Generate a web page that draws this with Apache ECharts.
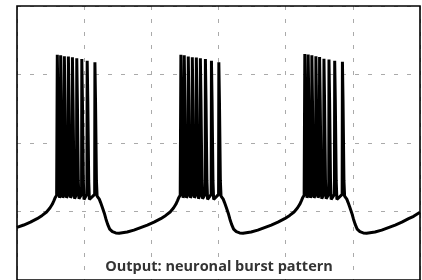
<!DOCTYPE html>
<html>
<head>
<meta charset="utf-8">
<script src="https://cdn.jsdelivr.net/npm/echarts@6/dist/echarts.min.js"></script>
<style>
  html, body { margin: 0; padding: 0; background: #fff; }
  #chart { width: 422px; height: 280px; }
</style>
</head>
<body>
<div id="chart"></div>
<script>
// time in ms, membrane value in mV
const rest0 = [[0, -89.3], [20, -87.9], [40, -86.2], [60, -84.2], [75, -82.3], [88, -80.3], [98, -78.0],
  [105, -75.8], [110, -73.6], [114, -71.8], [118, -70.5]];
const burst1 = [
  [119.2, -70], [120, 11.5], [121.8, -15], [124.5, -62], [126.5, -72],
  [129.2, -70], [130, 11.3], [131.8, -15], [134.5, -62], [136.5, -72],
  [140.2, -70], [141, 10.7], [142.8, -15], [145.5, -62], [147.5, -72],
  [152.2, -70], [153, 10.5], [154.8, -15], [157.5, -62], [159.5, -72],
  [164.2, -70], [165, 10.1], [166.8, -15], [169.5, -62], [171.5, -72.5],
  [177.2, -70], [178, 9.5], [179.8, -15], [182.5, -62], [184.5, -72.5],
  [192.2, -70], [193, 9.0], [194.8, -15], [197.5, -62], [199.5, -73],
  [208.2, -70], [209, 8.0], [210.8, -15], [213.5, -62], [215.5, -73],
  [231.2, -70], [232, 7.2], [233.8, -15], [236.5, -62], [238.5, -71]
];
const rest1 = [[241, -71.5], [245, -72.8], [249, -74.8], [254, -77.5], [260, -81], [265, -84.5], [270, -87.5],
  [276, -90.3], [284, -91.8], [294, -92.5], [304, -92.7], [328, -92.0], [348, -90.9], [368, -89.4],
  [388, -87.9], [408, -86.2], [428, -84.2], [443, -82.3], [456, -80.3], [466, -78.0], [473, -75.8],
  [478, -73.6], [482, -71.8], [486, -70.5]];
const burst2 = [
  [487.2, -70], [488, 11.5], [489.8, -15], [492.5, -62], [494.5, -72],
  [497.2, -70], [498, 11.3], [499.8, -15], [502.5, -62], [504.5, -72],
  [509.2, -70], [510, 10.5], [511.8, -15], [514.5, -62], [516.5, -72],
  [521.2, -70], [522, 10.1], [523.8, -15], [526.5, -62], [528.5, -72],
  [533.2, -70], [534, 9.9], [535.8, -15], [538.5, -62], [540.5, -72.5],
  [545.2, -70], [546, 9.5], [547.8, -15], [550.5, -62], [552.5, -72.5],
  [560.2, -70], [561, 9.0], [562.8, -15], [565.5, -62], [567.5, -73],
  [578.2, -70], [579, 8.0], [580.8, -15], [583.5, -62], [585.5, -73],
  [600.2, -70], [601, 7.1], [602.8, -15], [605.5, -62], [607.5, -71]
];
const rest2 = [[610, -71.5], [614, -72.8], [618, -74.8], [623, -77.5], [629, -81], [634, -84.5], [639, -87.5],
  [645, -90.3], [653, -91.8], [663, -92.5], [673, -92.7], [697, -92.0], [717, -90.9], [737, -89.4],
  [757, -87.9], [777, -86.2], [797, -84.2], [812, -82.3], [825, -80.3], [835, -78.0], [842, -75.8],
  [847, -73.6], [851, -71.8], [855, -70.5]];
const burst3 = [
  [856.2, -70], [857, 11.9], [858.8, -15], [861.5, -62], [863.5, -72],
  [866.2, -70], [867, 11.7], [868.8, -15], [871.5, -62], [873.5, -72],
  [877.2, -70], [878, 11.3], [879.8, -15], [882.5, -62], [884.5, -72],
  [889.2, -70], [890, 10.7], [891.8, -15], [894.5, -62], [896.5, -72],
  [900.2, -70], [901, 10.2], [902.8, -15], [905.5, -62], [907.5, -72.5],
  [913.2, -70], [914, 9.2], [915.8, -15], [918.5, -62], [920.5, -72.5],
  [928.2, -70], [929, 8.8], [930.8, -15], [933.5, -62], [935.5, -73],
  [945.2, -70], [946, 8.0], [947.8, -15], [950.5, -62], [952.5, -73],
  [968.2, -70], [969, 7.4], [970.8, -15], [973.5, -62], [975.5, -71]
];
const rest3 = [[978, -71.5], [982, -72.8], [986, -74.8], [991, -77.5], [997, -81], [1002, -84.5], [1007, -87.5],
  [1013, -90.3], [1021, -91.8], [1031, -92.5], [1041, -92.7], [1066, -92.0], [1086, -90.9], [1106, -89.4],
  [1126, -87.9], [1146, -86.2], [1166, -84.2], [1181, -82.8], [1200, -80.4]];

const titleText = 'Output: neuronal burst pattern';

const trace = [].concat(rest0, burst1, rest1, burst2, rest2, burst3, rest3);

const chart = echarts.init(document.getElementById('chart'), null, { renderer: 'canvas' });
const dashed = { show: true, lineStyle: { color: '#aaaaaa', width: 1, type: [4, 9] } };
chart.setOption({
  animation: false,
  grid: {
    left: 17, top: 6, width: 403, height: 275, z: 5,
    show: true, borderColor: '#000', borderWidth: 1.6, backgroundColor: 'transparent'
  },
  xAxis: {
    type: 'value', min: 0, max: 1200, interval: 200,
    axisLine: { show: false }, axisTick: { show: false }, axisLabel: { show: false },
    splitLine: dashed
  },
  yAxis: {
    type: 'value', min: -120, max: 40, interval: 40,
    axisLine: { show: false }, axisTick: { show: false }, axisLabel: { show: false },
    splitLine: dashed
  },
  graphic: [{
    type: 'text',
    x: 219, y: 267, z: 100,
    style: {
      text: titleText,
      fontFamily: 'Open Sans', fontWeight: 'bold', fontSize: 14.5,
      fill: '#333', align: 'center', verticalAlign: 'middle',
      backgroundColor: '#fff', padding: [2, 4]
    }
  }],
  series: [{
    type: 'line',
    z: 10,
    data: trace,
    showSymbol: false,
    lineStyle: { color: '#000', width: 3 },
    clip: true
  }]
});
</script>
</body>
</html>
